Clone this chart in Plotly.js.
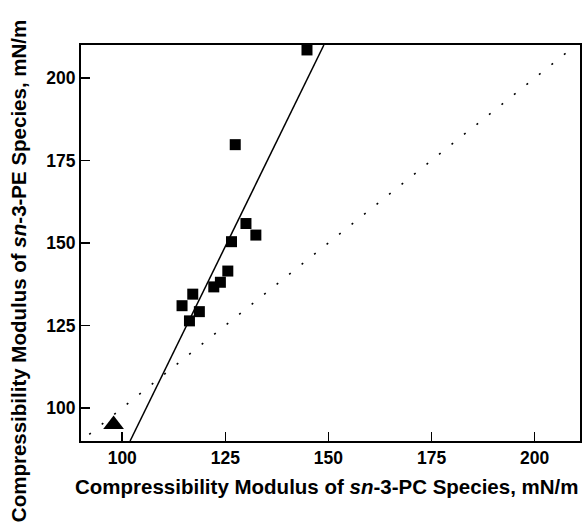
<!DOCTYPE html>
<html>
<head>
<meta charset="utf-8">
<script src="https://cdn.plot.ly/plotly-3.0.1.min.js"></script>
<style>html,body{margin:0;padding:0;background:#fff;}#chart{width:584px;height:531px;}</style>
</head>
<body>
<div id="chart"></div>
<script>
// sn-3-PC vs sn-3-PE compressibility modulus (mN/m)
const pcModulus = [144.8, 127.4, 130.0, 132.4, 126.5, 125.6, 123.8, 122.2, 117.1, 114.5, 118.7, 116.3];
const peModulus = [208.5, 179.8, 155.9, 152.4, 150.4, 141.5, 138.1, 136.7, 134.5, 131.0, 129.2, 126.4];
const refPC = [97.9];
const refPE = [95.0];
const fitX = [101.9, 148.9];
const fitY = [90, 210];
const identityX = [92, 209];
const identityY = [92, 209];
const tickVals = [100, 125, 150, 175, 200];
const xTitle = 'Compressibility Modulus of <i>sn</i>-3-PC Species, mN/m';
const yTitle = 'Compressibility Modulus of <i>sn</i>-3-PE Species, mN/m';

const font = {family: '"Liberation Sans", Arial, sans-serif', color: '#000'};

const traces = [
  {x: identityX, y: identityY, mode: 'lines', line: {color: '#000', width: 1.6, dash: '2px,14px'}, hoverinfo: 'skip'},
  {x: fitX, y: fitY, mode: 'lines', line: {color: '#000', width: 1.5}, hoverinfo: 'skip'},
  {x: pcModulus, y: peModulus, mode: 'markers', marker: {symbol: 'square', size: 11, color: '#000'}},
  {x: refPC, y: refPE, mode: 'markers', marker: {symbol: 'triangle-up', size: 18, color: '#000'}}
];

const axisCommon = {
  showgrid: false, zeroline: false, showline: true, linecolor: '#000', linewidth: 2,
  mirror: true, ticks: 'inside', ticklen: 9, tickwidth: 1.5, tickcolor: '#000',
  tickvals: tickVals, tickfont: Object.assign({size: 17.5, weight: 'bold'}, font)
};

const layout = {
  width: 584, height: 531,
  margin: {l: 81, r: 4, t: 45, b: 90},
  paper_bgcolor: '#fff', plot_bgcolor: '#fff',
  showlegend: false,
  xaxis: Object.assign({}, axisCommon, {range: [90, 211]}),
  yaxis: Object.assign({}, axisCommon, {range: [90, 210]}),
  annotations: [
    {
      text: xTitle, showarrow: false,
      xref: 'paper', yref: 'paper', x: 0.493, y: -0.116,
      xanchor: 'center', yanchor: 'middle',
      font: Object.assign({size: 20.5, weight: 'bold'}, font)
    },
    {
      text: yTitle, textangle: -90, showarrow: false,
      xref: 'paper', yref: 'paper', x: -0.125, y: 0.428,
      xanchor: 'center', yanchor: 'middle',
      font: Object.assign({size: 20.5, weight: 'bold'}, font)
    }
  ]
};

Plotly.newPlot('chart', traces, layout, {displayModeBar: false, staticPlot: true});
</script>
</body>
</html>
